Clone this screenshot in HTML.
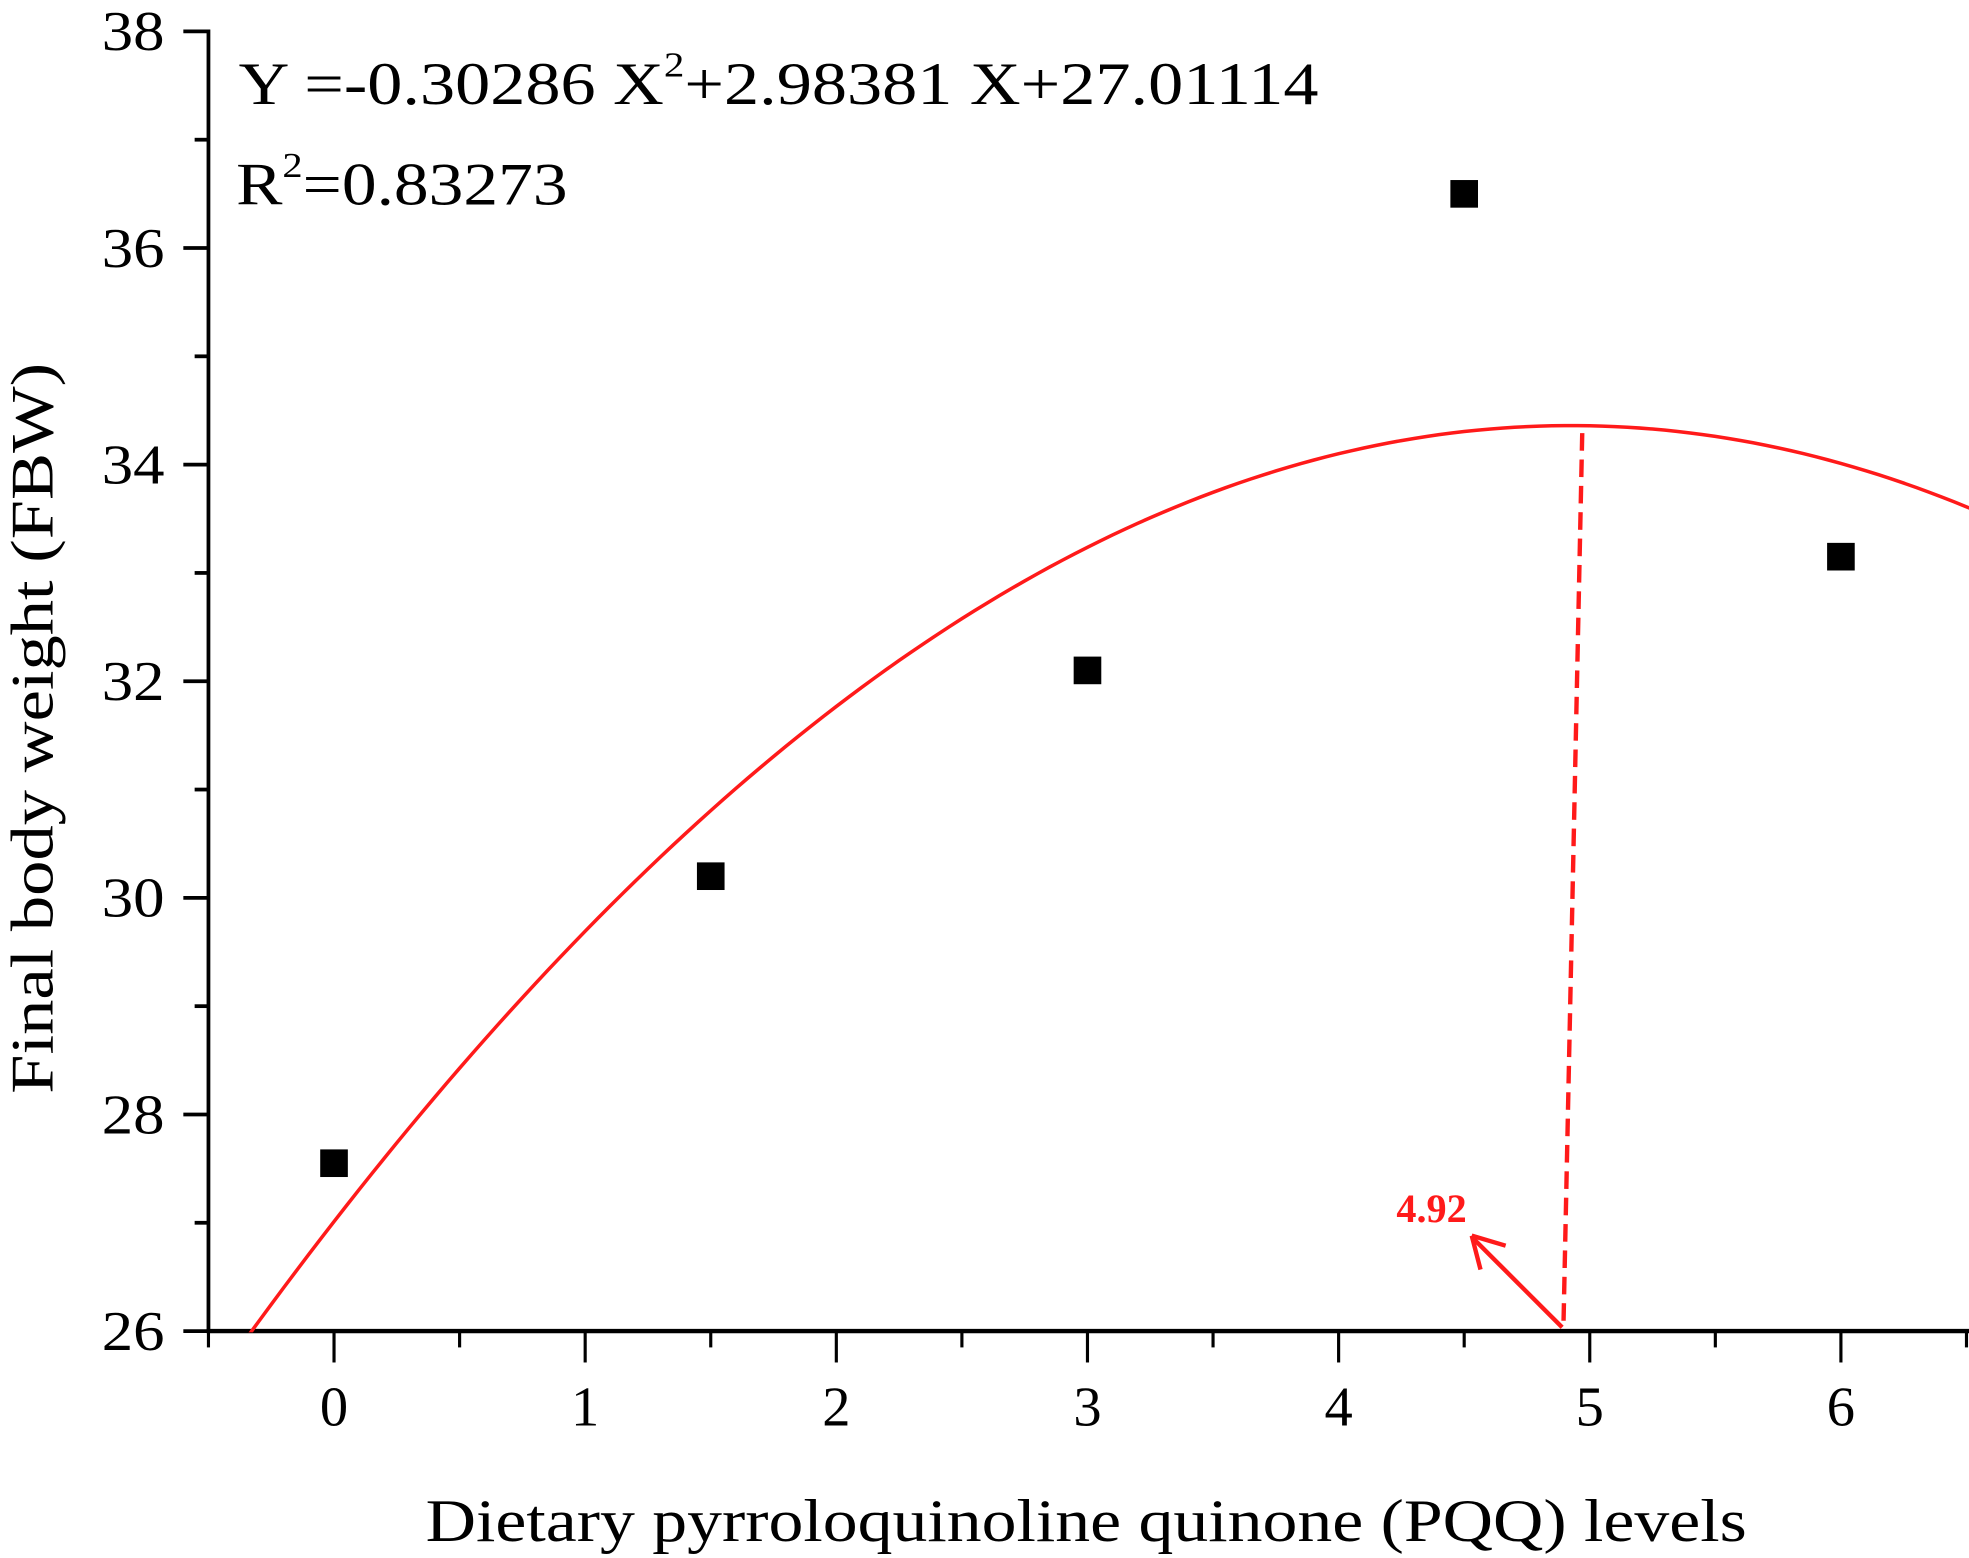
<!DOCTYPE html>
<html><head><meta charset="utf-8">
<style>
html,body{margin:0;padding:0;background:#fff;}
svg{display:block;}
text{font-family:"Liberation Serif","Times New Roman",serif;fill:#000;}
</style></head>
<body>
<svg id="chart" width="1969" height="1558" viewBox="0 0 1568 1240.7" xmlns="http://www.w3.org/2000/svg" font-family="Liberation Serif, Times New Roman, serif">
<defs><clipPath id="plotclip"><rect x="166" y="25" width="1402" height="1036"/></clipPath></defs>
<g id="axes"></g>
<g id="marks" clip-path="url(#plotclip)"></g>
<g id="anno"></g>
<text font-family="Liberation Serif, serif" x="190" y="83" font-size="48" textLength="860" lengthAdjust="spacingAndGlyphs">Y =-0.30286 X<tspan dy="-22" font-size="28">2</tspan><tspan dy="22">+2.98381 X+27.01114</tspan></text>
<text font-family="Liberation Serif, serif" x="188" y="163" font-size="48" textLength="264" lengthAdjust="spacingAndGlyphs">R<tspan dy="-22" font-size="28">2</tspan><tspan dy="22">=0.83273</tspan></text>
<text font-family="Liberation Serif, serif" transform="translate(42,580) rotate(-90)" text-anchor="middle" font-size="48" textLength="582" lengthAdjust="spacingAndGlyphs">Final body weight (FBW)</text>
<text font-family="Liberation Serif, serif" x="865" y="1227" text-anchor="middle" font-size="48" textLength="1052" lengthAdjust="spacingAndGlyphs">Dietary pyrroloquinoline quinone (PQQ) levels</text>
</svg>
<script>
const xCats = [0, 1.5, 3, 4.5, 6];
const fbwValues = [27.55, 30.2, 32.1, 36.5, 33.15];
const xTickLabels = ["0","1","2","3","4","5","6"];
const yTickLabels = ["26","28","30","32","34","36","38"];
const fitCoef = [-0.30286, 2.98381, 27.01114];
const optimum = [4.92];

const NS = "http://www.w3.org/2000/svg";
const X0 = 266, XS = 200, Y0 = 1060, YS = 86.25;
function sx(v){ return X0 + v*XS; }
function sy(v){ return Y0 - (v-26)*YS; }
function mk(tag, attrs, parent){
  const e = document.createElementNS(NS, tag);
  for (const k in attrs) e.setAttribute(k, attrs[k]);
  parent.appendChild(e); return e;
}
const axes = document.getElementById('axes');
const marks = document.getElementById('marks');
const anno = document.getElementById('anno');

const yl = mk('line',{x1:166,y1:23.5,x2:166,y2:1061.5,stroke:'#000','stroke-width':3},axes);


const xl = mk('line',{x1:164.5,y1:1060,x2:1568,y2:1060,stroke:'#000','stroke-width':3.5},axes);



for (let v=26; v<=38; v+=1){
  const major = (v%2===0);
  const t = mk('line',{x1: major?146:155, y1:sy(v), x2:166, y2:sy(v), stroke:'#000','stroke-width':3},axes);
  
  
}
yTickLabels.forEach(function(s){
  const v = parseFloat(s);
  const t = mk('text',{x:131,y:sy(v)+15,'text-anchor':'end','font-size':45,'font-family':'Liberation Serif, serif',textLength:50,lengthAdjust:'spacingAndGlyphs'},axes);
  t.textContent = s;
  
  
});
for (let v=-0.5; v<=6.5; v+=0.5){
  const major = Math.abs(v - Math.round(v))<1e-9;
  const t = mk('line',{x1:sx(v),y1:1060,x2:sx(v),y2: major?1085:1073,stroke:'#000','stroke-width':2.5},axes);
  
  
}
xTickLabels.forEach(function(s){
  const v = parseFloat(s);
  const t = mk('text',{x:sx(v),y:1135,'text-anchor':'middle','font-size':45,'font-family':'Liberation Serif, serif'},axes);
  t.textContent = s;
  
  
});

let d = '';
for (let i=0;i<=140;i++){
  const x = -0.4 + i*(7.0/140);
  const y = fitCoef[0]*x*x + fitCoef[1]*x + fitCoef[2];
  d += (i?'L':'M') + sx(x).toFixed(2) + ' ' + sy(y).toFixed(2);
}
const curve = mk('path',{d:d,fill:'none',stroke:'#ff1a1a','stroke-width':2.8},marks);



xCats.forEach(function(x,i){
  const r = mk('rect',{x:sx(x)-11,y:sy(fbwValues[i])-11,width:22,height:22,fill:'#000'},marks);
  
  
});

const ox = sx(optimum[0]) - 4;
const peakY = sy(fitCoef[2] - fitCoef[1]*fitCoef[1]/(4*fitCoef[0]));
const dl = mk('line',{x1:ox+14,y1:peakY+6,x2:ox-1,y2:1058,stroke:'#ff1a1a','stroke-width':3.5,'stroke-dasharray':'14 7'},anno);


const ar = mk('line',{x1:ox-2,y1:1057,x2:ox-72,y2:987,stroke:'#ff1a1a','stroke-width':3.5},anno);


const ah = mk('path',{d:'M'+(ox-74)+' 984 L'+(ox-47)+' 992 M'+(ox-74)+' 984 L'+(ox-67)+' 1011',stroke:'#ff1a1a','stroke-width':3.5,fill:'none'},anno);


const ot = mk('text',{x:ox-78,y:973,'text-anchor':'end','font-size':32,'font-weight':'bold','font-family':'Liberation Serif, serif',style:'fill:#ff1a1a'},anno);
ot.textContent = optimum[0].toFixed(2);


</script>
</body></html>
